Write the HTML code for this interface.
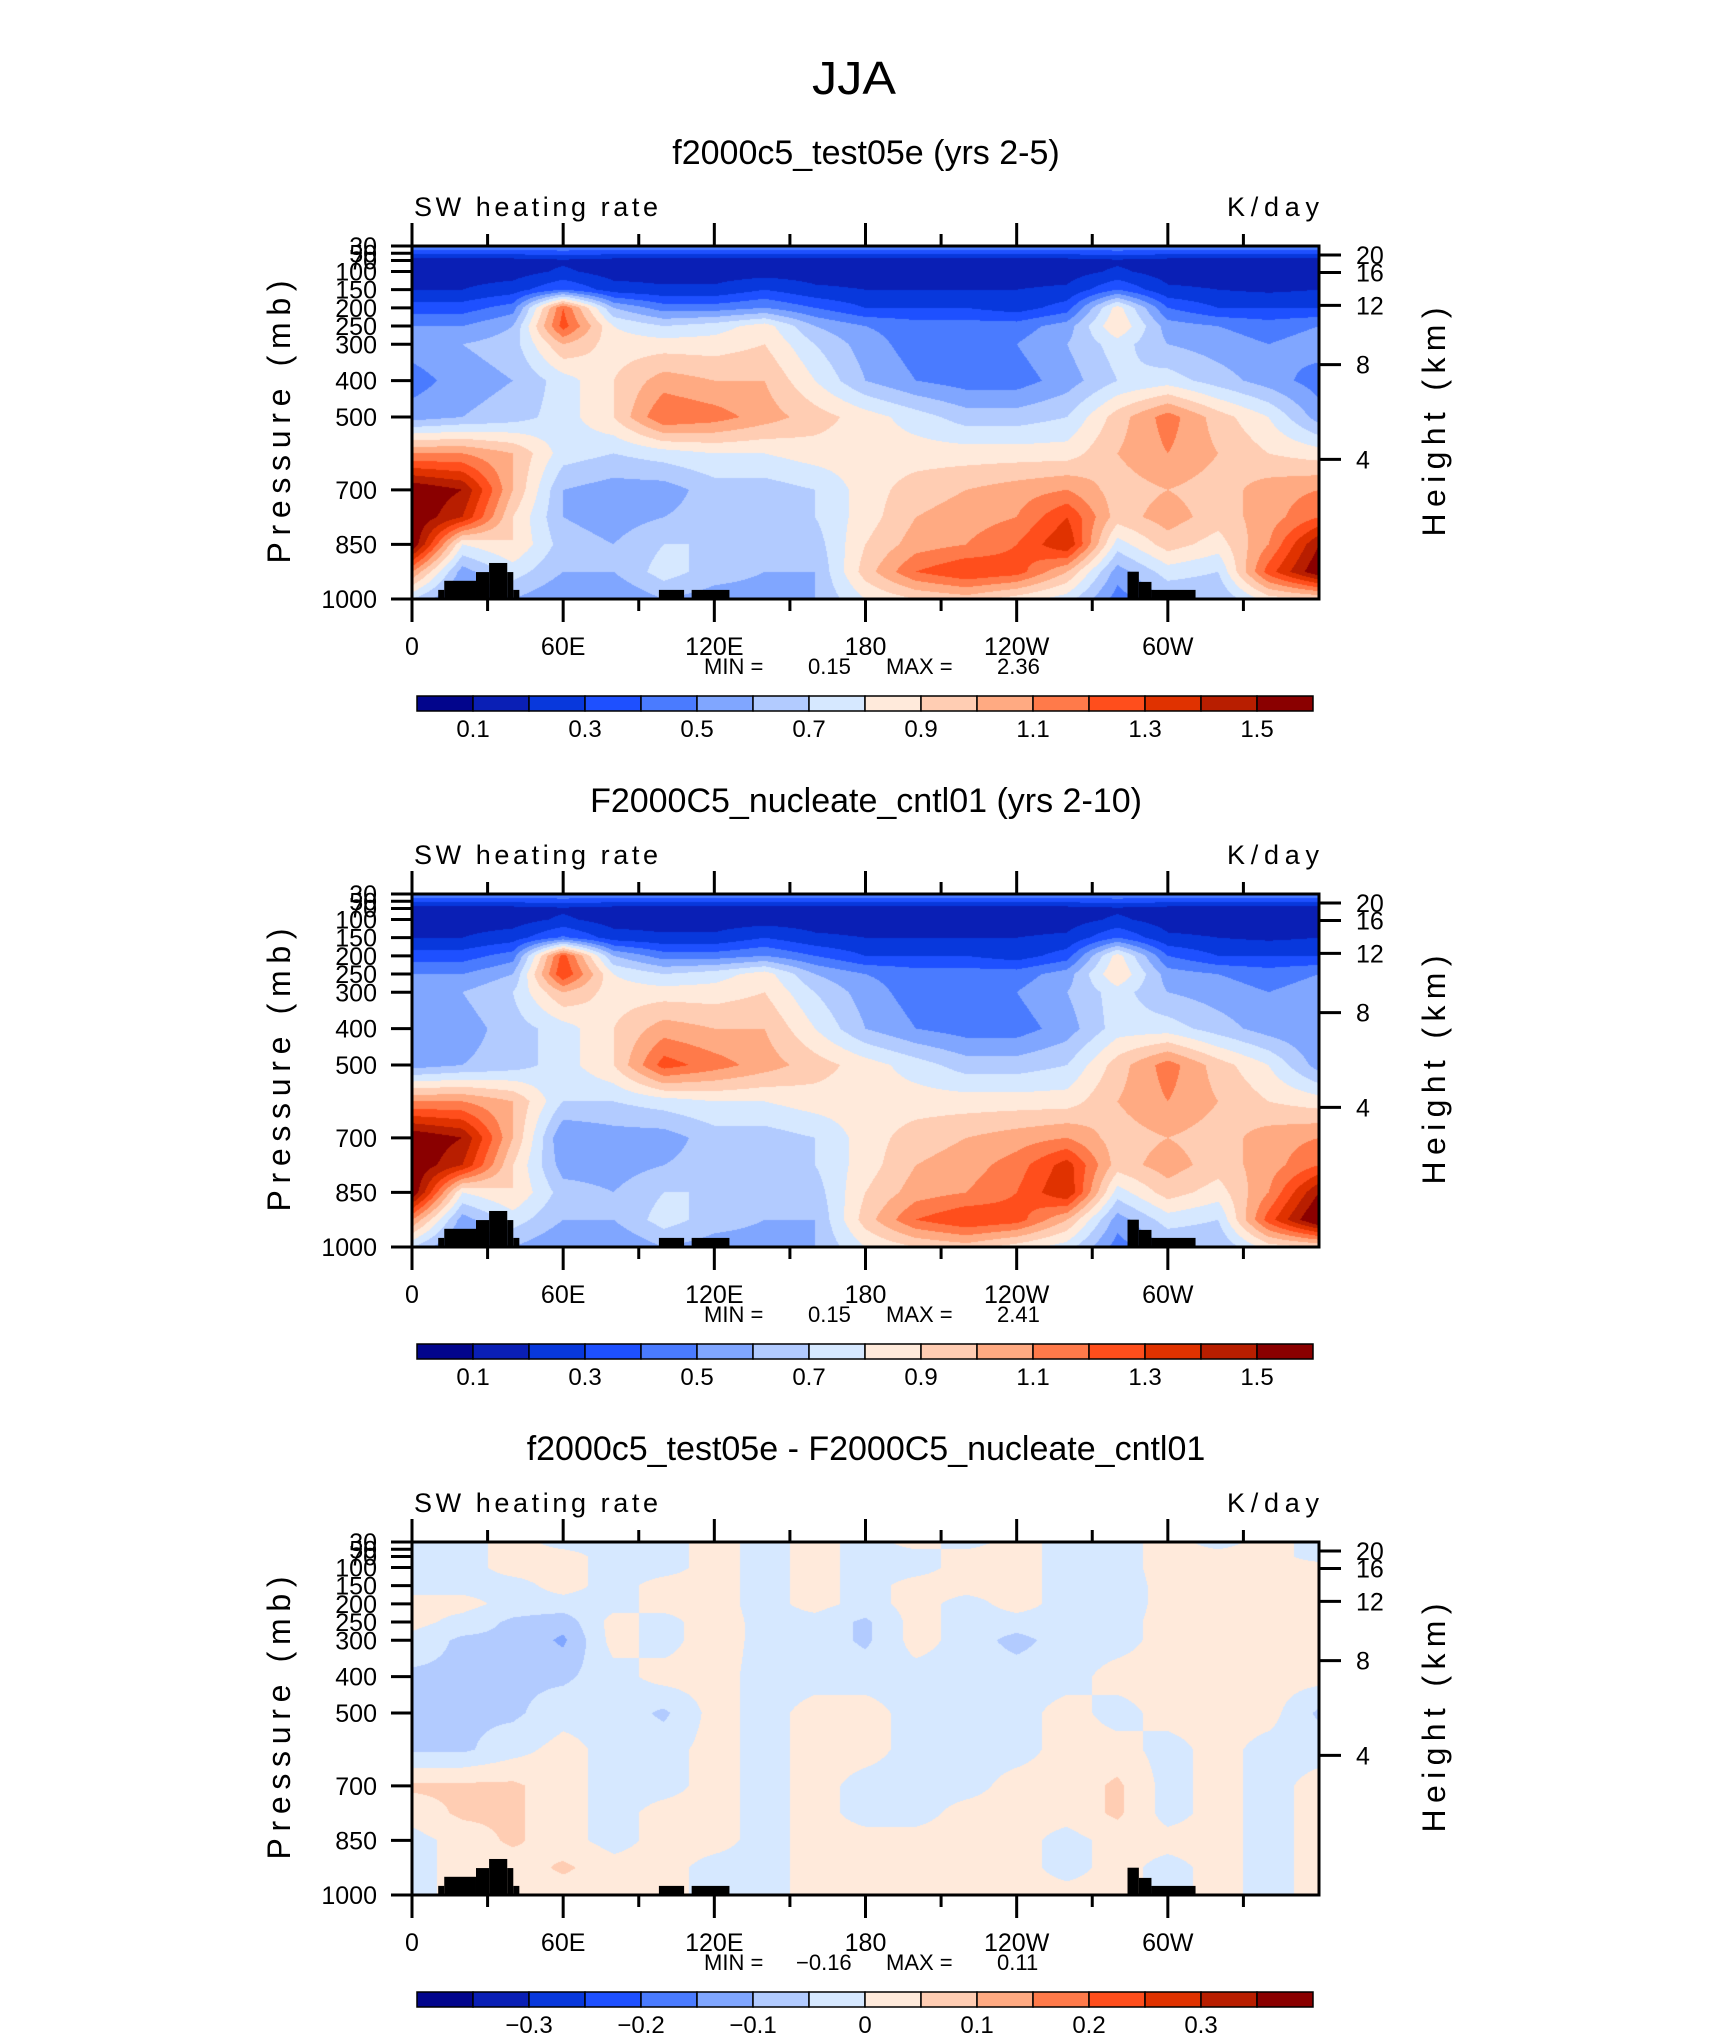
<!DOCTYPE html>
<html><head><meta charset="utf-8">
<style>
html,body{margin:0;padding:0;background:#fff;}
#wrap{position:relative;width:1710px;height:2038px;overflow:hidden;background:#fff;}
canvas{position:absolute;}
svg{position:absolute;left:0;top:0;}
text{font-family:"Liberation Sans",sans-serif;fill:#000;}
</style></head>
<body>
<div id="wrap">
<canvas id="c0"></canvas>
<canvas id="c1"></canvas>
<canvas id="c2"></canvas>
<svg id="s" width="1710" height="2038"></svg>
</div>
<script>
const lons=[0,20,40,60,80,100,120,140,160,180,200,220,240,260,280,300,320,340,360];
const levs=[30,70,100,150,200,250,300,400,500,600,700,775,850,925,1000];
const p1=[
[0.5,0.5,0.5,0.5,0.5,0.5,0.5,0.5,0.5,0.5,0.5,0.5,0.5,0.5,0.5,0.5,0.5,0.5,0.5],
[0.15,0.15,0.15,0.18,0.15,0.15,0.15,0.15,0.15,0.15,0.15,0.15,0.15,0.15,0.18,0.15,0.15,0.15,0.15],
[0.15,0.15,0.15,0.22,0.15,0.15,0.15,0.15,0.15,0.15,0.15,0.15,0.15,0.15,0.22,0.15,0.15,0.15,0.15],
[0.2,0.2,0.25,0.4,0.25,0.22,0.22,0.3,0.22,0.2,0.2,0.2,0.2,0.22,0.4,0.22,0.2,0.18,0.2],
[0.35,0.35,0.45,1.2,0.6,0.45,0.45,0.5,0.4,0.3,0.3,0.3,0.25,0.35,0.85,0.4,0.3,0.3,0.3],
[0.5,0.5,0.6,1.25,0.8,0.7,0.75,0.85,0.6,0.5,0.45,0.45,0.45,0.55,0.9,0.55,0.5,0.45,0.5],
[0.55,0.6,0.65,1.0,0.85,0.85,0.85,0.9,0.7,0.55,0.45,0.45,0.5,0.6,0.75,0.6,0.55,0.5,0.55],
[0.45,0.55,0.6,0.75,0.9,1.05,1.0,1.0,0.8,0.6,0.5,0.45,0.45,0.55,0.7,0.75,0.65,0.55,0.45],
[0.55,0.6,0.65,0.75,0.9,1.2,1.15,1.05,0.95,0.85,0.75,0.65,0.65,0.7,0.95,1.15,0.95,0.8,0.55],
[1.1,1.1,1.0,0.75,0.7,0.75,0.8,0.8,0.85,0.85,0.85,0.85,0.85,0.85,1.0,1.1,1.0,0.9,0.85],
[1.6,1.5,1.0,0.6,0.55,0.55,0.65,0.65,0.7,0.85,0.95,1.0,1.05,1.1,0.95,1.0,0.95,1.05,1.1],
[1.6,1.4,0.9,0.6,0.55,0.6,0.65,0.6,0.7,0.85,1.0,1.05,1.1,1.3,0.95,1.05,0.95,1.05,1.2],
[1.6,0.8,0.9,0.65,0.6,0.7,0.7,0.6,0.65,0.9,1.05,1.1,1.2,1.4,0.75,0.95,0.85,1.1,1.5],
[1.1,0.55,0.75,0.6,0.6,0.75,0.65,0.6,0.6,0.95,1.2,1.3,1.25,1.0,0.55,0.75,0.7,1.25,1.6],
[0.7,0.45,0.6,0.5,0.5,0.6,0.55,0.55,0.6,0.8,0.9,0.95,0.85,0.75,0.45,0.6,0.6,0.85,0.9]];
const p2=[
[0.5,0.5,0.5,0.5,0.5,0.5,0.5,0.5,0.5,0.5,0.5,0.5,0.5,0.5,0.5,0.5,0.5,0.5,0.5],
[0.15,0.15,0.15,0.18,0.15,0.15,0.15,0.15,0.15,0.15,0.15,0.15,0.15,0.15,0.18,0.15,0.15,0.15,0.15],
[0.15,0.15,0.15,0.22,0.15,0.15,0.15,0.15,0.15,0.15,0.15,0.15,0.15,0.15,0.22,0.15,0.15,0.15,0.15],
[0.2,0.2,0.25,0.42,0.25,0.22,0.22,0.3,0.22,0.2,0.2,0.2,0.2,0.22,0.4,0.22,0.2,0.18,0.2],
[0.35,0.35,0.45,1.25,0.6,0.45,0.45,0.5,0.4,0.3,0.3,0.3,0.25,0.35,0.85,0.4,0.3,0.3,0.3],
[0.5,0.5,0.6,1.3,0.8,0.7,0.75,0.85,0.6,0.5,0.45,0.45,0.45,0.55,0.9,0.55,0.5,0.45,0.5],
[0.55,0.6,0.7,1.0,0.85,0.85,0.85,0.9,0.7,0.55,0.45,0.45,0.5,0.6,0.75,0.6,0.55,0.5,0.55],
[0.5,0.55,0.65,0.75,0.9,1.05,1.0,1.0,0.8,0.6,0.5,0.45,0.45,0.55,0.75,0.75,0.65,0.55,0.5],
[0.55,0.6,0.65,0.75,0.9,1.25,1.15,1.05,0.95,0.85,0.75,0.65,0.65,0.7,0.95,1.15,0.95,0.8,0.55],
[1.1,1.1,1.0,0.7,0.7,0.75,0.8,0.8,0.85,0.85,0.85,0.85,0.85,0.85,1.0,1.1,1.0,0.9,0.85],
[1.6,1.5,1.0,0.5,0.55,0.55,0.65,0.65,0.7,0.85,0.95,1.0,1.05,1.1,0.95,1.0,0.95,1.05,1.1],
[1.6,1.4,0.9,0.55,0.55,0.6,0.65,0.6,0.7,0.85,1.0,1.05,1.15,1.35,0.95,1.05,0.95,1.05,1.2],
[1.6,0.8,0.9,0.65,0.6,0.7,0.7,0.6,0.65,0.9,1.05,1.1,1.2,1.4,0.75,0.95,0.85,1.1,1.5],
[1.1,0.55,0.75,0.6,0.6,0.75,0.65,0.6,0.6,0.95,1.2,1.3,1.25,1.0,0.55,0.75,0.7,1.25,1.65],
[0.7,0.45,0.6,0.5,0.5,0.6,0.55,0.55,0.6,0.8,0.9,0.95,0.85,0.75,0.45,0.6,0.6,0.85,0.9]];
const p3=[
[-0.02,-0.02,0.02,-0.02,-0.02,-0.02,0.02,-0.02,0.02,-0.02,0.02,-0.02,0.02,-0.02,-0.02,0.02,-0.02,0.02,-0.02],
[-0.02,-0.02,0.02,0.02,-0.02,-0.02,0.02,-0.02,0.02,-0.02,-0.02,0.02,0.02,-0.02,-0.02,0.02,0.02,0.02,-0.02],
[-0.02,-0.02,0.02,0.02,-0.02,-0.02,0.02,-0.02,0.02,-0.02,-0.02,0.02,0.02,-0.02,-0.02,0.02,0.02,0.02,0.02],
[-0.02,-0.02,-0.02,0.02,-0.02,0.02,0.02,-0.02,0.02,-0.02,0.02,0.02,0.02,-0.02,-0.03,0.02,0.02,0.02,0.02],
[0.02,0.02,-0.02,-0.02,-0.02,0.02,0.02,-0.02,0.02,-0.02,0.02,-0.02,0.02,-0.02,-0.03,0.02,0.02,0.02,0.02],
[0.02,-0.02,-0.06,-0.08,0.02,-0.02,0.03,-0.02,-0.02,-0.06,0.02,-0.02,-0.02,-0.02,-0.02,0.02,0.02,0.02,0.02],
[-0.02,-0.06,-0.06,-0.11,0.02,-0.02,0.03,-0.02,-0.02,-0.06,0.02,-0.02,-0.07,-0.02,-0.02,0.02,0.02,0.02,0.02],
[-0.06,-0.06,-0.06,-0.06,-0.02,0.02,0.02,-0.02,-0.02,-0.02,-0.02,-0.02,-0.02,-0.02,0.02,0.02,0.02,0.02,0.02],
[-0.06,-0.06,-0.06,-0.02,-0.02,-0.06,0.02,-0.02,0.02,0.02,-0.02,-0.02,-0.02,0.02,-0.02,0.02,0.02,0.02,-0.06],
[-0.06,-0.06,-0.02,0.02,-0.02,-0.02,0.02,-0.02,0.02,0.02,-0.02,-0.02,-0.02,0.02,0.02,-0.02,0.02,-0.02,-0.02],
[0.06,0.06,0.06,0.02,-0.02,-0.02,0.02,-0.02,0.02,-0.02,-0.02,-0.02,0.02,0.02,0.06,-0.02,0.02,-0.02,0.02],
[0.02,0.06,0.06,0.02,-0.02,0.02,0.02,-0.02,0.02,-0.02,-0.02,0.02,0.02,0.02,0.06,-0.02,0.02,-0.02,0.02],
[-0.02,0.02,0.06,0.02,-0.02,0.02,0.02,-0.02,0.02,0.02,0.02,0.02,0.02,-0.02,0.02,0.02,0.02,-0.02,0.02],
[-0.02,0.02,0.02,0.06,0.02,0.02,-0.02,-0.02,0.02,0.02,0.02,0.02,0.02,-0.02,0.02,-0.02,0.02,-0.02,0.02],
[-0.02,0.02,0.02,0.02,0.02,0.02,-0.02,-0.02,0.02,0.02,0.02,0.02,0.02,0.02,0.02,-0.02,0.02,-0.02,0.02]];
const bounds12=[0.1,0.2,0.3,0.4,0.5,0.6,0.7,0.8,0.9,1.0,1.1,1.2,1.3,1.4,1.5];
const bounds3=[-0.35,-0.3,-0.25,-0.2,-0.15,-0.1,-0.05,0,0.05,0.1,0.15,0.2,0.25,0.3,0.35];
const cbLabels12=["0.1","0.3","0.5","0.7","0.9","1.1","1.3","1.5"];
const cbLabels3=["\u22120.3","\u22120.2","\u22120.1","0","0.1","0.2","0.3"];
const titles=["f2000c5_test05e (yrs 2-5)","F2000C5_nucleate_cntl01 (yrs 2-10)","f2000c5_test05e - F2000C5_nucleate_cntl01"];
const minVals=["0.15","0.15","\u22120.16"];
const maxVals=["2.36","2.41","0.11"];
const pTicks=[30,50,70,100,150,200,250,300,400,500,700,850,1000];
const zTicks=[4,8,12,16,20];
const xTickLons=[0,60,120,180,240,300];
const xTickLabels=["0","60E","120E","180","120W","60W"];
const terrain=[[10.4,12.8,975],[12.8,25.4,950],[25.4,30.6,926],[30.6,37.8,901],[37.8,40.2,926],[40.2,42.6,975],[98,108,975],[111,126,975],[284,288.5,925],[288.5,293.5,953],[293.5,311,975]];
const colors=["#02058c","#0a1fb5","#0838dc","#1e50ff","#4a7bff","#80a6ff","#b2cbff","#d6e8ff","#ffeadb","#ffcdb3","#ffaa82","#ff7a4a","#ff4e1c","#e03200","#b81e00","#8a0000"];

const L=412,R=1319,PH=353,TOP0=246,DY=648;
const W=R-L;
function xs(lon){return L+lon/360*W;}
function ys(p,k){const b=TOP0+k*DY+PH;return b-(1000-p)/970*PH;}
function zToP(z){z*=1000;return z<=11000?1013.25*Math.pow(1-2.2557e-5*z,5.256):226.3*Math.exp(-(z-11000)/6341.6);}
function hex(c){return [parseInt(c.substr(1,2),16),parseInt(c.substr(3,2),16),parseInt(c.substr(5,2),16)];}
const rgb=colors.map(hex);

function field(data,lon,p){
  let i=Math.min(Math.floor(lon/20),lons.length-2);let fx=(lon-lons[i])/20;
  let j=0;while(j<levs.length-2&&p>levs[j+1])j++;
  let fy=(p-levs[j])/(levs[j+1]-levs[j]);
  const a=data[j][i],b=data[j][i+1],c=data[j+1][i],d=data[j+1][i+1];
  return (a*(1-fx)+b*fx)*(1-fy)+(c*(1-fx)+d*fx)*fy;
}
function drawField(k,data,bnds){
  const cv=document.getElementById('c'+k);
  cv.width=W;cv.height=PH;cv.style.left=L+'px';cv.style.top=(TOP0+k*DY)+'px';
  const ctx=cv.getContext('2d');const img=ctx.createImageData(W,PH);
  for(let py=0;py<PH;py++){const p=30+(py+0.5)/PH*970;
    for(let px=0;px<W;px++){const lon=(px+0.5)/W*360;const v=field(data,lon,p);
      let n=0;while(n<bnds.length&&v>=bnds[n])n++;const c=rgb[n];const o=(py*W+px)*4;
      img.data[o]=c[0];img.data[o+1]=c[1];img.data[o+2]=c[2];img.data[o+3]=255;}}
  ctx.putImageData(img,0,0);
}
const NS="http://www.w3.org/2000/svg";const svg=document.getElementById('s');
function el(tag,attrs,txt){const e=document.createElementNS(NS,tag);for(const k in attrs)e.setAttribute(k,attrs[k]);if(txt!==undefined)e.textContent=txt;svg.appendChild(e);return e;}
function line(x1,y1,x2,y2,w){return el('line',{x1:x1,y1:y1,x2:x2,y2:y2,stroke:'#000','stroke-width':w});}

let t=el('text',{x:854,y:94,'font-size':46,'text-anchor':'middle',fill:'#333',textLength:84,lengthAdjust:'spacingAndGlyphs'},'JJA');



const datas=[p1,p2,p3];
for(let k=0;k<3;k++){
  const top=TOP0+k*DY,bot=top+PH;
  drawField(k,datas[k],k<2?bounds12:bounds3);
  let tt=el('text',{x:866,y:164+k*DY,'font-size':34,'text-anchor':'middle'},titles[k]);
  
  
  let s1=el('text',{x:414,y:216+k*DY,'font-size':27,textLength:244,lengthAdjust:'spacing'},'SW heating rate');
  
  
  let s2=el('text',{x:1319,y:216+k*DY,'font-size':27,'text-anchor':'end',textLength:92,lengthAdjust:'spacing'},'K/day');
  
  
  terrain.forEach(tr=>{const r=el('rect',{x:xs(tr[0]),y:ys(tr[2],k),width:xs(tr[1])-xs(tr[0]),height:bot-ys(tr[2],k),fill:'#000'});
    
    });
  let fr=el('rect',{x:L,y:top,width:W,height:PH,fill:'none',stroke:'#000','stroke-width':3});
  
  
  for(let lon=0;lon<360;lon+=30){const major=lon%60===0;const x=xs(lon);
    line(x,top-(major?23:12),x,top,3);line(x,bot,x,bot+(major?23:12),3);}
  xTickLons.forEach((lon,i)=>{const e=el('text',{x:xs(lon),y:bot+56,'font-size':25,'text-anchor':'middle'},xTickLabels[i]);
    
    });
  pTicks.forEach(p=>{const y=ys(p,k);line(L-21,y,L,y,3);
    const e=el('text',{x:377,y:y+9,'font-size':25,'text-anchor':'end'},String(p));
    
    });
  zTicks.forEach(z=>{const y=ys(zToP(z),k);line(R,y,R+22,y,3);
    const e=el('text',{x:1356,y:y+9,'font-size':25},String(z));
    
    });
  let ya=el('text',{x:0,y:0,'font-size':32,'text-anchor':'middle',transform:'translate(290,'+(top+176)+') rotate(-90)',textLength:283,lengthAdjust:'spacing'},'Pressure (mb)');
  
  
  let ya2=el('text',{x:0,y:0,'font-size':32,'text-anchor':'middle',transform:'translate(1445,'+(top+176)+') rotate(-90)',textLength:229,lengthAdjust:'spacing'},'Height (km)');
  
  
  const my=bot+75;
  [['MIN =',704],[minVals[k],k===2?796:808],['MAX =',886],[maxVals[k],997]].forEach(a=>{
    const e=el('text',{x:a[1],y:my,'font-size':22},a[0]);
    
    });
  const cy=top+450,bw=56;
  for(let i=0;i<16;i++){const r=el('rect',{x:417+i*bw,y:cy,width:bw,height:15,fill:colors[i],stroke:'#000','stroke-width':1.5});
    
    }
  const labs=k<2?cbLabels12:cbLabels3;const off=k<2?1:2;
  labs.forEach((lb,i)=>{const e=el('text',{x:417+(off+2*i)*bw,y:cy+41,'font-size':24,'text-anchor':'middle'},lb);
    
    });
}
</script>
</body></html>
